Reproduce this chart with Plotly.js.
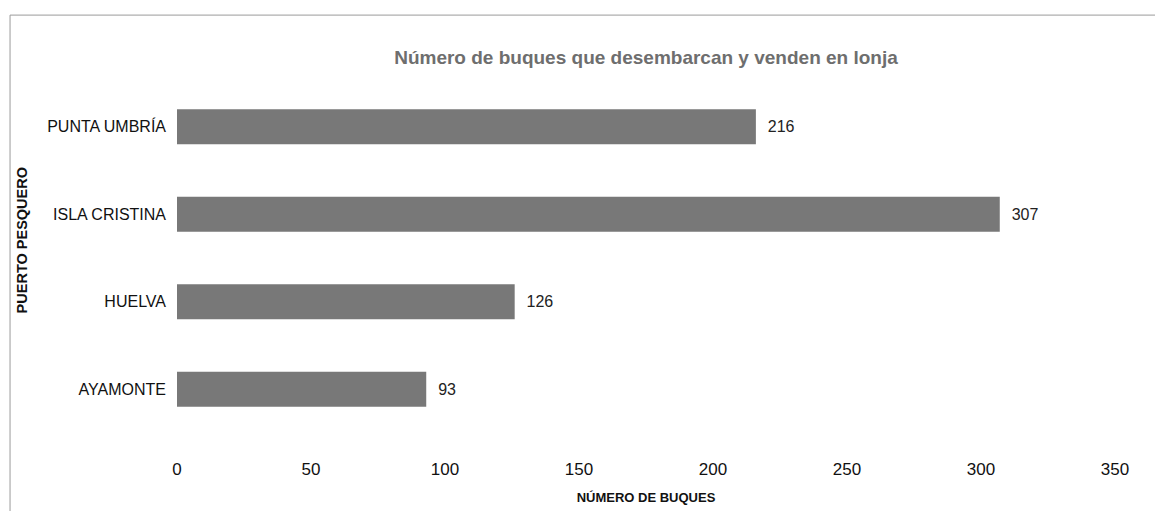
<!DOCTYPE html>
<html>
<head>
<meta charset="utf-8">
<script src="https://cdn.plot.ly/plotly-3.0.1.min.js"></script>
<style>html,body{margin:0;padding:0;background:#fff;}#chart{width:1155px;height:511px;}</style>
</head>
<body>
<div id="chart"></div>
<script>
const ports = ["PUNTA UMBRÍA", "ISLA CRISTINA", "HUELVA", "AYAMONTE"];
const vessels = [216, 307, 126, 93];
const xTicks = [0, 50, 100, 150, 200, 250, 300, 350];

const FONT = "'Liberation Sans', Arial, sans-serif";

const trace = {
  type: "bar",
  orientation: "h",
  y: ports,
  x: vessels,
  width: 0.4,
  marker: {color: "#787878", line: {width: 0}},
  text: vessels.map(v => "\u00a0\u00a0" + v),
  textposition: "outside",
  cliponaxis: false,
  textfont: {family: FONT, size: 16, color: "#222"},
  hoverinfo: "x+y"
};

const layout = {
  width: 1155,
  height: 511,
  margin: {l: 177, r: 40, t: 83, b: 78},
  paper_bgcolor: "#ffffff",
  plot_bgcolor: "#ffffff",
  showlegend: false,
  title: {
    text: "<b>Número de buques que desembarcan y venden en lonja</b>",
    font: {family: FONT, size: 19, color: "#6e6e6e"},
    x: 0.5, xref: "paper", xanchor: "center",
    y: 0.888, yref: "container", yanchor: "middle"
  },
  xaxis: {
    range: [0, 350],
    tickvals: xTicks,
    ticktext: xTicks.map(String),
    showgrid: false,
    zeroline: false,
    showline: false,
    ticks: "",
    ticklabelstandoff: 24,
    tickfont: {family: FONT, size: 17, color: "#111"},
    title: {text: "<b>NÚMERO DE BUQUES</b>", font: {family: FONT, size: 13, color: "#111"}, standoff: 14}
  },
  yaxis: {
    autorange: "reversed",
    showgrid: false,
    zeroline: false,
    showline: false,
    ticks: "",
    ticklabelstandoff: 10,
    tickfont: {family: FONT, size: 16, color: "#111"}
  },
  annotations: [
    {text: "<b>PUERTO PESQUERO</b>", textangle: -90, xref: "paper", yref: "paper",
     x: -0.165, y: 0.551, xanchor: "center", yanchor: "middle", showarrow: false,
     font: {family: FONT, size: 14.5, color: "#111"}}
  ],
  bargap: 0.6,
  shapes: [
    {type: "line", xref: "paper", yref: "paper", x0: -0.178, x1: 1.05, y0: 1.194, y1: 1.194, line: {color: "#9a9a9a", width: 1}},
    {type: "line", xref: "paper", yref: "paper", x0: -0.178, x1: -0.178, y0: 1.194, y1: -0.23, line: {color: "#9a9a9a", width: 1}}
  ]
};

Plotly.newPlot("chart", [trace], layout, {displayModeBar: false, staticPlot: true});
</script>
</body>
</html>
